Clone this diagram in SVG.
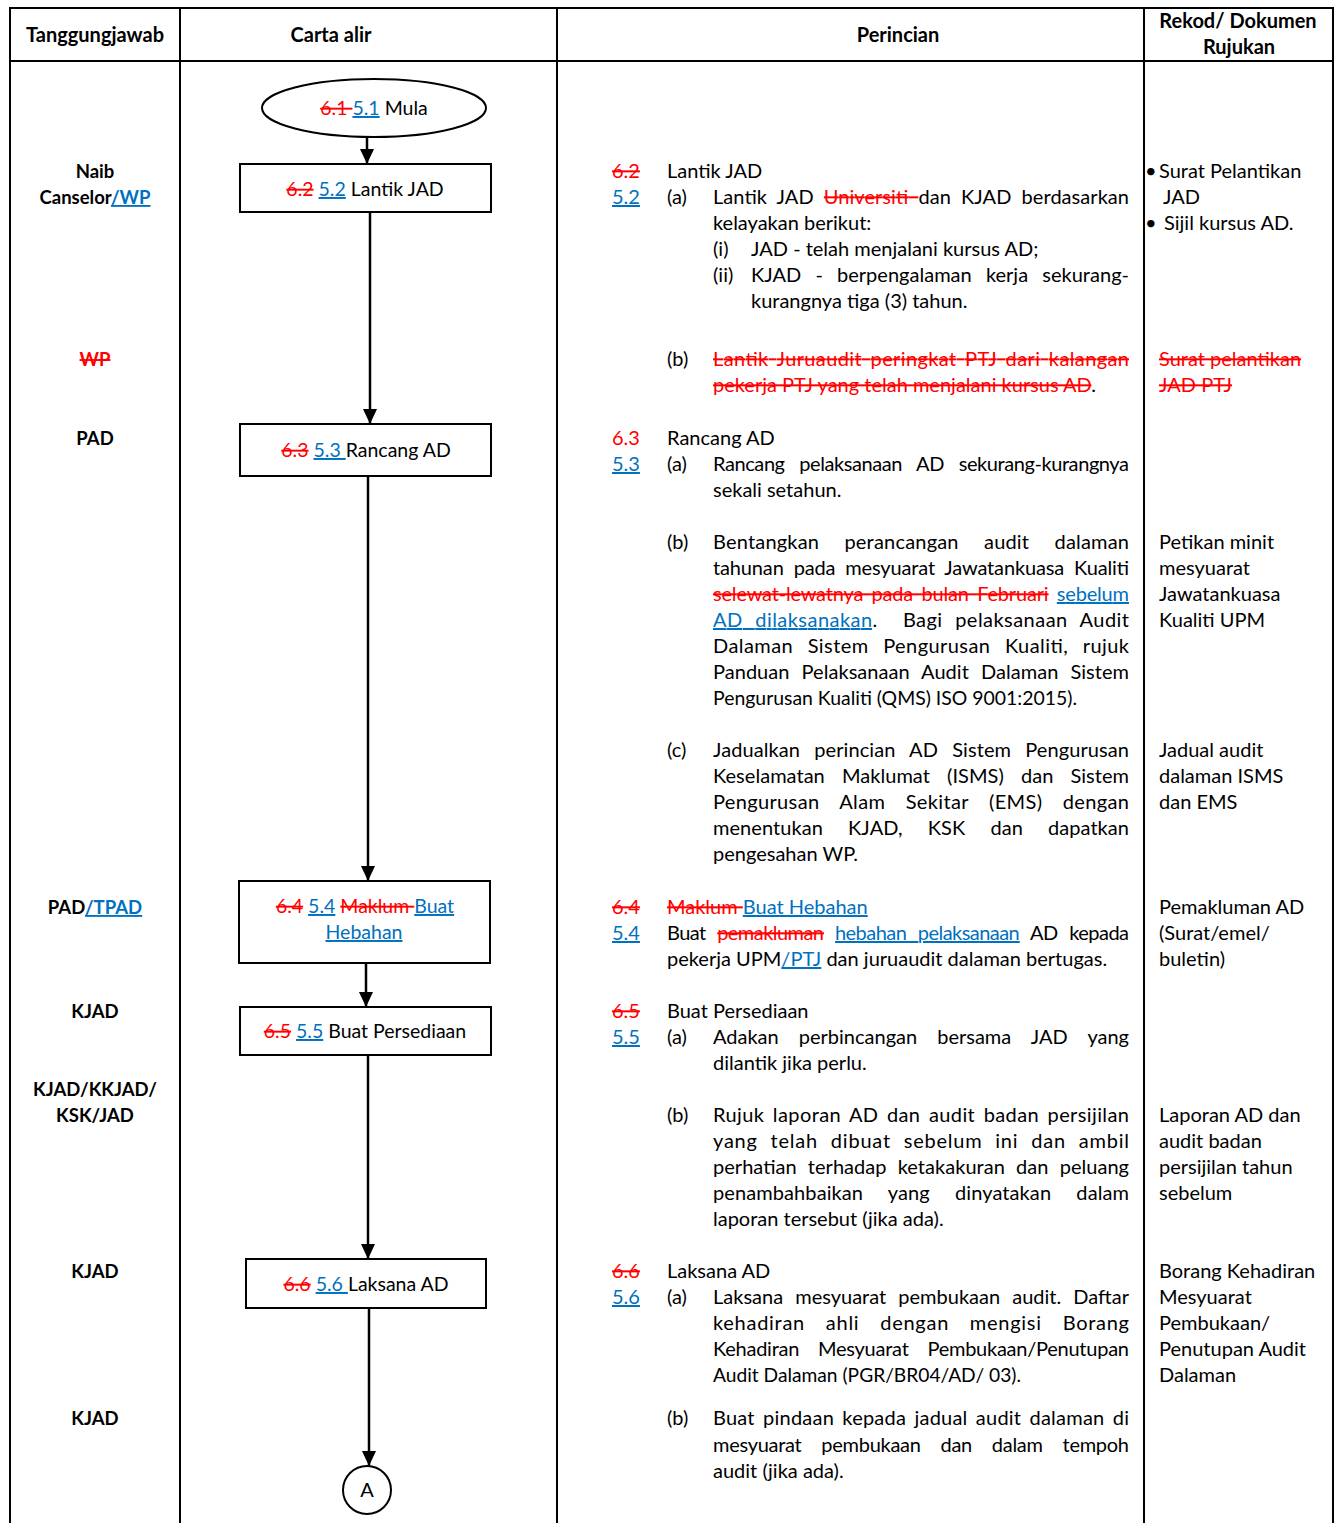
<svg xmlns="http://www.w3.org/2000/svg" width="1341" height="1523" viewBox="0 0 1341 1523">
<defs>
<style>
text{font-family:Lato,'Open Sans',sans-serif;font-size:20px;fill:#000;white-space:pre}
.h{font-weight:bold;font-size:20px}
.bd{font-weight:bold;font-size:18.5px}
.fb{font-size:19.5px}
.s{fill:#FF0000;text-decoration:line-through}
.u{fill:#0070C0;text-decoration:underline}
.rd{fill:#FF0000}
.grid{stroke:#000;stroke-width:2;fill:none}
.box{fill:#fff;stroke:#000;stroke-width:2}
.con{stroke:#000;stroke-width:2.5;fill:none;marker-end:url(#ah)}
.m{text-anchor:middle}
</style>
<marker id="ah" viewBox="0 0 15 14" refX="15" refY="7" markerWidth="15" markerHeight="14" markerUnits="userSpaceOnUse" orient="auto">
<path d="M0,0 L15,7 L0,14 z" fill="#000"/>
</marker>
</defs>
<rect width="1341" height="1523" fill="#fff"/>

<g id="table">
<line class="grid" x1="9" y1="8" x2="1334" y2="8"/>
<line class="grid" x1="9" y1="61" x2="1334" y2="61"/>
<line class="grid" x1="10" y1="8" x2="10" y2="1523"/>
<line class="grid" x1="180" y1="8" x2="180" y2="1523"/>
<line class="grid" x1="557" y1="8" x2="557" y2="1523"/>
<line class="grid" x1="1144" y1="8" x2="1144" y2="1523"/>
<line class="grid" x1="1333" y1="8" x2="1333" y2="1523"/>
</g>

<g id="header">
<text class="h m" x="95" y="42">Tanggungjawab</text>
<text class="h m" x="331" y="42">Carta alir</text>
<text class="h m" x="898" y="42">Perincian</text>
<text class="h m" x="1238" y="28">Rekod/ Dokumen</text>
<text class="h m" x="1239" y="54">Rujukan</text>
</g>

<g id="responsibility">
<text class="bd m" x="95" y="178">Naib</text>
<text class="bd m" x="95" y="204">Canselor<tspan class="u">/WP</tspan></text>
<text class="bd m" x="95" y="366"><tspan class="s">WP</tspan></text>
<text class="bd m" x="95" y="445">PAD</text>
<text class="bd m" x="95" y="914">PAD<tspan class="u">/TPAD</tspan></text>
<text class="bd m" x="95" y="1018">KJAD</text>
<text class="bd m" x="95" y="1096">KJAD/KKJAD/</text>
<text class="bd m" x="95" y="1122">KSK/JAD</text>
<text class="bd m" x="95" y="1278">KJAD</text>
<text class="bd m" x="95" y="1425">KJAD</text>
</g>

<g id="connectors">
<line class="con" x1="367" y1="137" x2="367" y2="164"/>
<line class="con" x1="370" y1="212" x2="370" y2="424"/>
<line class="con" x1="368" y1="476" x2="368" y2="881"/>
<line class="con" x1="366" y1="963" x2="366" y2="1007"/>
<line class="con" x1="368" y1="1055" x2="368" y2="1259"/>
<line class="con" x1="369" y1="1308" x2="369" y2="1466"/>
</g>

<g id="n51">
<ellipse class="box" cx="374" cy="108" rx="112" ry="29"/>
<text class="m fb" x="374" y="115"><tspan class="s">6.1 </tspan><tspan class="u">5.1</tspan> Mula</text>
</g>
<g id="n52">
<rect class="box" x="240" y="164" width="251" height="48"/>
<text class="m fb" x="365" y="196"><tspan class="s">6.2</tspan> <tspan class="u">5.2</tspan> Lantik JAD</text>
</g>
<g id="n53">
<rect class="box" x="240" y="424" width="251" height="52"/>
<text class="m fb" x="366" y="457"><tspan class="s">6.3</tspan> <tspan class="u">5.3 </tspan>Rancang AD</text>
</g>
<g id="n54">
<rect class="box" x="239" y="881" width="251" height="82"/>
<text class="m fb" x="365" y="913"><tspan class="s">6.4</tspan> <tspan class="u">5.4</tspan> <tspan class="s">Maklum </tspan><tspan class="u">Buat</tspan></text>
<text class="m fb" x="364" y="939"><tspan class="u">Hebahan</tspan></text>
</g>
<g id="n55">
<rect class="box" x="240" y="1007" width="251" height="48"/>
<text class="m fb" x="365" y="1038"><tspan class="s">6.5</tspan> <tspan class="u">5.5</tspan> Buat Persediaan</text>
</g>
<g id="n56">
<rect class="box" x="246" y="1259" width="240" height="49"/>
<text class="m fb" x="366" y="1291"><tspan class="s">6.6</tspan> <tspan class="u">5.6 </tspan>Laksana AD</text>
</g>
<g id="nA">
<circle class="box" cx="367" cy="1490" r="24"/>
<text class="m" x="367" y="1497">A</text>
</g>

<g id="details" transform="translate(0,1)">
<text x="612" y="177"><tspan class="s">6.2</tspan></text>
<text x="667" y="177">Lantik JAD</text>
<text x="612" y="203"><tspan class="u">5.2</tspan></text>
<text x="667" y="203">(a)</text>
<text x="713" y="203" textLength="416" lengthAdjust="spacing" word-spacing="5">Lantik JAD <tspan class="s">Universiti </tspan>dan KJAD berdasarkan</text>
<text x="713" y="229">kelayakan berikut:</text>
<text x="713" y="255">(i)</text>
<text x="751" y="255">JAD - telah menjalani kursus AD;</text>
<text x="713" y="281">(ii)</text>
<text x="751" y="281" textLength="378" lengthAdjust="spacing" word-spacing="9">KJAD - berpengalaman kerja sekurang-</text>
<text x="751" y="307">kurangnya tiga (3) tahun.</text>
<text x="667" y="365">(b)</text>
<text x="713" y="365" textLength="416" lengthAdjust="spacing" word-spacing="3"><tspan class="s">Lantik Juruaudit peringkat PTJ dari kalangan</tspan></text>
<text x="713" y="391"><tspan class="s">pekerja PTJ yang telah menjalani kursus AD</tspan>.</text>

<text x="612" y="444" class="rd">6.3</text>
<text x="667" y="444">Rancang AD</text>
<text x="612" y="470"><tspan class="u">5.3</tspan></text>
<text x="667" y="470">(a)</text>
<text x="713" y="470" textLength="416" lengthAdjust="spacing" word-spacing="10">Rancang pelaksanaan AD sekurang-kurangnya</text>
<text x="713" y="496">sekali setahun.</text>
<text x="667" y="548">(b)</text>
<text x="713" y="548" textLength="416" lengthAdjust="spacing" word-spacing="20">Bentangkan perancangan audit dalaman</text>
<text x="713" y="574" textLength="416" lengthAdjust="spacing" word-spacing="5">tahunan pada mesyuarat Jawatankuasa Kualiti</text>
<text x="713" y="600" textLength="416" lengthAdjust="spacing" word-spacing="3.5"><tspan class="s">selewat-lewatnya pada bulan Februari</tspan> <tspan class="u">sebelum</tspan></text>
<text x="713" y="626" textLength="416" lengthAdjust="spacing" word-spacing="7"><tspan class="u">AD dilaksanakan</tspan>.  Bagi pelaksanaan Audit</text>
<text x="713" y="652" textLength="416" lengthAdjust="spacing" word-spacing="9">Dalaman Sistem Pengurusan Kualiti, rujuk</text>
<text x="713" y="678" textLength="416" lengthAdjust="spacing" word-spacing="7">Panduan Pelaksanaan Audit Dalaman Sistem</text>
<text x="713" y="704" textLength="364" lengthAdjust="spacingAndGlyphs">Pengurusan Kualiti (QMS) ISO 9001:2015).</text>
<text x="667" y="756">(c)</text>
<text x="713" y="756" textLength="416" lengthAdjust="spacing" word-spacing="9">Jadualkan perincian AD Sistem Pengurusan</text>
<text x="713" y="782" textLength="416" lengthAdjust="spacing" word-spacing="12">Keselamatan Maklumat (ISMS) dan Sistem</text>
<text x="713" y="808" textLength="416" lengthAdjust="spacing" word-spacing="15">Pengurusan Alam Sekitar (EMS) dengan</text>
<text x="713" y="834" textLength="416" lengthAdjust="spacing" word-spacing="20">menentukan KJAD, KSK dan dapatkan</text>
<text x="713" y="860">pengesahan WP.</text>

<text x="612" y="913"><tspan class="s">6.4</tspan></text>
<text x="667" y="913"><tspan class="s">Maklum </tspan><tspan class="u">Buat Hebahan</tspan></text>
<text x="612" y="939"><tspan class="u">5.4</tspan></text>
<text x="667" y="939" textLength="462" lengthAdjust="spacing" word-spacing="7">Buat <tspan class="s">pemakluman</tspan> <tspan class="u">hebahan pelaksanaan</tspan> AD kepada</text>
<text x="667" y="965">pekerja UPM<tspan class="u">/PTJ</tspan> dan juruaudit dalaman bertugas.</text>

<text x="612" y="1017"><tspan class="s">6.5</tspan></text>
<text x="667" y="1017">Buat Persediaan</text>
<text x="612" y="1043"><tspan class="u">5.5</tspan></text>
<text x="667" y="1043">(a)</text>
<text x="713" y="1043" textLength="416" lengthAdjust="spacing" word-spacing="15">Adakan perbincangan bersama JAD yang</text>
<text x="713" y="1069">dilantik jika perlu.</text>
<text x="667" y="1121">(b)</text>
<text x="713" y="1121" textLength="416" lengthAdjust="spacing" word-spacing="3">Rujuk laporan AD dan audit badan persijilan</text>
<text x="713" y="1147" textLength="416" lengthAdjust="spacing" word-spacing="7">yang telah dibuat sebelum ini dan ambil</text>
<text x="713" y="1173" textLength="416" lengthAdjust="spacing" word-spacing="6">perhatian terhadap ketakakuran dan peluang</text>
<text x="713" y="1199" textLength="416" lengthAdjust="spacing" word-spacing="20">penambahbaikan yang dinyatakan dalam</text>
<text x="713" y="1225">laporan tersebut (jika ada).</text>

<text x="612" y="1277"><tspan class="s">6.6</tspan></text>
<text x="667" y="1277">Laksana AD</text>
<text x="612" y="1303"><tspan class="u">5.6</tspan></text>
<text x="667" y="1303">(a)</text>
<text x="713" y="1303" textLength="416" lengthAdjust="spacing" word-spacing="7">Laksana mesyuarat pembukaan audit. Daftar</text>
<text x="713" y="1329" textLength="416" lengthAdjust="spacing" word-spacing="15">kehadiran ahli dengan mengisi Borang</text>
<text x="713" y="1355" textLength="416" lengthAdjust="spacing" word-spacing="14">Kehadiran Mesyuarat Pembukaan/Penutupan</text>
<text x="713" y="1381" textLength="308" lengthAdjust="spacingAndGlyphs">Audit Dalaman (PGR/BR04/AD/ 03).</text>
<text x="667" y="1424">(b)</text>
<text x="713" y="1424" textLength="416" lengthAdjust="spacing" word-spacing="3">Buat pindaan kepada jadual audit dalaman di</text>
<text x="713" y="1451" textLength="416" lengthAdjust="spacing" word-spacing="15">mesyuarat pembukaan dan dalam tempoh</text>
<text x="713" y="1477">audit (jika ada).</text>
</g>

<g id="records" transform="translate(0,1)">
<text x="1145" y="177">•</text>
<text x="1159" y="177">Surat Pelantikan</text>
<text x="1163" y="203">JAD</text>
<text x="1145" y="229">•</text>
<text x="1164" y="229">Sijil kursus AD.</text>
<text x="1159" y="365"><tspan class="s">Surat pelantikan</tspan></text>
<text x="1159" y="391"><tspan class="s">JAD PTJ</tspan></text>
<text x="1159" y="548">Petikan minit</text>
<text x="1159" y="574">mesyuarat</text>
<text x="1159" y="600">Jawatankuasa</text>
<text x="1159" y="626">Kualiti UPM</text>
<text x="1159" y="756">Jadual audit</text>
<text x="1159" y="782">dalaman ISMS</text>
<text x="1159" y="808">dan EMS</text>
<text x="1159" y="913">Pemakluman AD</text>
<text x="1159" y="939">(Surat/emel/</text>
<text x="1159" y="965">buletin)</text>
<text x="1159" y="1121">Laporan AD dan</text>
<text x="1159" y="1147">audit badan</text>
<text x="1159" y="1173">persijilan tahun</text>
<text x="1159" y="1199">sebelum</text>
<text x="1159" y="1277">Borang Kehadiran</text>
<text x="1159" y="1303">Mesyuarat</text>
<text x="1159" y="1329">Pembukaan/</text>
<text x="1159" y="1355">Penutupan Audit</text>
<text x="1159" y="1381">Dalaman</text>
</g>
</svg>
